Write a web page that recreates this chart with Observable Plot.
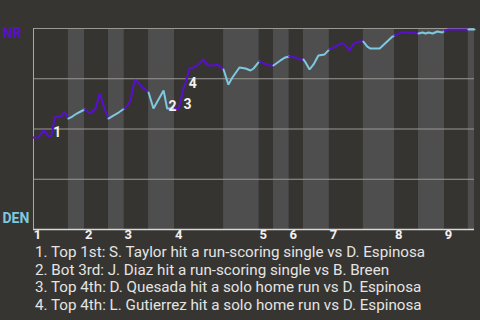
<!DOCTYPE html>
<html>
<head>
<meta charset="utf-8">
<script src="https://cdn.jsdelivr.net/npm/d3@7"></script>
<script src="https://cdn.jsdelivr.net/npm/@observablehq/plot@0.6"></script>
<style>
  html, body { margin: 0; padding: 0; background: #373531; }
  #wrap { width: 480px; height: 320px; overflow: hidden; }
  #notes { font-family: Roboto, sans-serif; font-size: 15.2px; line-height: 17.7px; color: #e4e4e4; padding-left: 35px; white-space: nowrap; }
</style>
</head>
<body>
<div id="wrap"><div id="chart"></div><div id="notes"></div></div>
<script>
// Half-inning boundaries in game-progress units (0..100)
const halfEdges = [0, 7.9, 11.6, 17.0, 20.6, 26.1, 32.0, 43.1, 51.2, 54.4, 58.0, 61.2, 67.1, 74.8, 81.9, 87.3, 93.2, 98.6, 100];
const inningLabels = ["1", "2", "3", "4", "5", "6", "7", "8", "9"];

// Win probability for NR (%) at each play
const playT = [0, 1.1, 2.3, 3.4, 4.1, 4.8, 5.4, 6.3, 7.0, 7.9,
  8.8, 9.8, 10.7, 11.6,
  12.9, 14.1, 15.0, 16.1, 17.0,
  18.1, 19.3, 20.6,
  21.3, 22.0, 22.9, 23.6, 24.5, 26.1,
  27.2, 29.5, 30.3, 31.1, 32.0,
  32.9, 34.0, 34.5, 35.4, 36.3, 37.4, 38.5, 39.0, 39.7, 40.6, 41.7, 43.1,
  44.2, 45.1, 46.7, 48.1, 49.2, 49.9, 51.2,
  52.2, 53.7, 54.4,
  56.0, 57.1, 58.0,
  59.4, 60.5, 61.2,
  61.7, 62.6, 63.5, 64.6, 66.0, 67.1,
  68.5, 69.6, 70.3, 71.7, 72.6, 73.7, 74.8,
  75.7, 76.4, 78.5, 81.4, 81.9,
  83.2, 85.0, 87.3,
  88.2, 88.9, 89.6, 90.5, 91.6, 92.7, 93.2,
  94.1, 98.6,
  100];
const winPct = [45.8, 45.8, 49.3, 46.3, 46.8, 55.7, 56.2, 56.2, 58.7, 55.2,
  56.2, 57.7, 58.7, 59.7,
  57.7, 60.2, 67.7, 60.2, 55.2,
  56.7, 58.2, 60.2,
  61.7, 64.2, 74.1, 73.6, 71.1, 68.2,
  60.2, 69.2, 60.2, 60.2, 60.7,
  59.7, 70.1, 73.1, 80.1, 80.6, 82.1, 84.6, 83.1, 81.6, 81.6, 82.1, 79.6,
  72.1, 75.6, 80.6, 80.1, 79.1, 80.1, 83.6,
  82.6, 81.6, 81.6,
  84.1, 85.6, 86.1,
  85.6, 84.6, 84.6,
  83.1, 79.6, 82.1, 86.6, 87.1, 89.6,
  91.0, 92.5, 92.5, 89.1, 92.5, 93.5, 93.5,
  91.0, 90.0, 90.0, 96.0, 96.5,
  98.0, 98.0, 97.5,
  98.0, 97.5, 98.0, 97.5, 98.5, 98.0, 98.8,
  99.5, 99.5,
  99.5];

// Key play annotations (label positions)
const noteIds = ["1", "2", "3", "4"];
const noteT = [5.4, 31.5, 34.9, 36.1];
const notePct = [48.3, 61.2, 62.2, 72.6];
const noteTexts = [
  "1. Top 1st: S. Taylor hit a run-scoring single vs D. Espinosa",
  "2. Bot 3rd: J. Diaz hit a run-scoring single vs B. Breen",
  "3. Top 4th: D. Quesada hit a solo home run vs D. Espinosa",
  "4. Top 4th: L. Gutierrez hit a solo home run vs D. Espinosa"
];

const teamTop = "NR", teamBottom = "DEN";
const purple = "#5a0ed0", blue = "#7ec8e0";

const bands = halfEdges.slice(0, -1).map((e, i) => ({x1: e, x2: halfEdges[i + 1], bottom: i % 2 === 1}));
const rows = [];
bands.forEach((b, i) => {
  playT.forEach((t, j) => {
    if (t >= b.x1 - 1e-9 && t <= b.x2 + 1e-9) rows.push({t, p: winPct[j], half: i, bottom: b.bottom});
  });
});
const inningTicks = inningLabels.map((lab, i) => ({x: halfEdges[2 * i], lab}));
const notes = noteIds.map((id, i) => ({id, t: noteT[i], p: notePct[i]}));

const chart = Plot.plot({
  width: 480,
  height: 244,
  marginLeft: 33,
  marginRight: 6,
  marginTop: 28,
  marginBottom: 15,
  style: {background: "#373531", color: "#eee", overflow: "visible"},
  x: {domain: [0, 100], axis: null},
  y: {domain: [0, 100], axis: null},
  marks: [
    Plot.rect(bands, {x1: "x1", x2: "x2", y1: 0, y2: 100, fill: d => d.bottom ? "#4e4e4e" : "#363430"}),
    Plot.ruleY([25, 50, 75, 100], {stroke: "#9a9895", strokeWidth: 1}),
    Plot.ruleY([0], {stroke: "#d8d8d8", strokeWidth: 1.5}),
    Plot.ruleX([0], {stroke: "#aaa8a5", strokeWidth: 1}),
    Plot.line(rows, {x: "t", y: "p", z: "half", stroke: d => d.bottom ? blue : purple, strokeWidth: 2, strokeLinejoin: "miter"}),
    Plot.text(notes, {x: "t", y: "p", text: "id", fill: "#f2f2f2", fontSize: 14, fontWeight: "bold", fontFamily: "Roboto, sans-serif"}),
    Plot.text([teamTop], {frameAnchor: "left", y: 97.5, text: d => d, dx: -31, textAnchor: "start", fill: purple, fontSize: 14, fontWeight: "bold", fontFamily: "Roboto, sans-serif"}),
    Plot.text([teamBottom], {frameAnchor: "left", y: 5.5, text: d => d, dx: -31, textAnchor: "start", fill: blue, fontSize: 14, fontWeight: "bold", fontFamily: "Roboto, sans-serif"}),
    Plot.text(inningTicks, {x: "x", frameAnchor: "bottom", text: "lab", dx: 4, dy: 9, fill: "#f2f2f2", fontSize: 13, fontWeight: "bold", fontFamily: "Roboto, sans-serif"})
  ]
});
document.getElementById("chart").appendChild(chart);
const notesDiv = document.getElementById("notes");
noteTexts.forEach(t => { const d = document.createElement("div"); d.textContent = t; notesDiv.appendChild(d); });
</script>
</body>
</html>
